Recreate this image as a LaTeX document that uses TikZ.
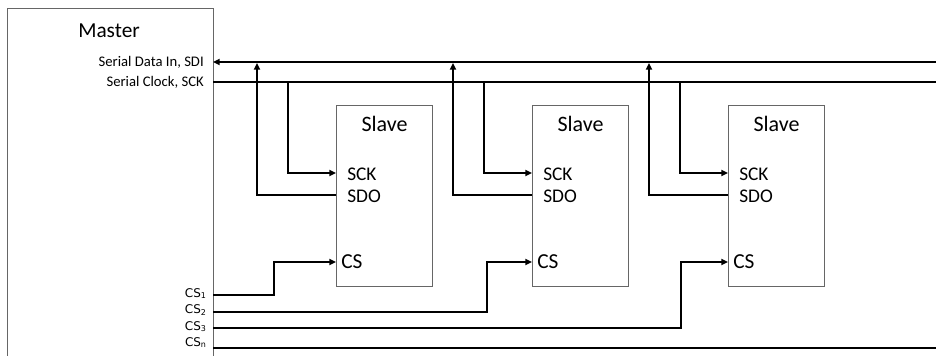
\documentclass[tikz,border=0pt]{standalone}
\usepackage{fontspec}
\setmainfont{Carlito}
\newfontfamily\csfont{DejaVu Sans}
\usetikzlibrary{arrows.meta,calc}

\begin{document}
\begin{tikzpicture}[x=0.75pt,y=-0.75pt,
  box/.style={draw=black!60, line width=0.8pt, rectangle, inner sep=0pt},
  bus/.style={line width=1.3pt},
  arr/.style={bus,-{Triangle[length=5pt,width=4.5pt]}},
  lbl/.style={inner sep=0pt, font=\fontsize{14.5}{16}\selectfont},
  pinlbl/.style={anchor=east, inner sep=0pt, font=\fontsize{11}{12}\selectfont},
  cslbl/.style={anchor=base east, inner sep=0pt, font=\csfont\fontsize{9}{10}\selectfont},
]
\useasboundingbox (0,0) rectangle (936,356);
\clip (0,0) rectangle (936,356);

% Master device (runs off the lower edge)
\node[box, anchor=north west, minimum width=154.5pt, minimum height=272pt] (master) at (7,8) {};
\node[anchor=base west, inner sep=0pt, font=\fontsize{16}{18}\selectfont] (mtitle) at (78,38) {Master};
\node[pinlbl] (sdilbl) at (204,62) {Serial Data In, SDI};
\node[pinlbl] (scklbl) at (204,82) {Serial Clock, SCK};
\node[cslbl] (cs1lbl) at (207,297) {CS\textsubscript{1}};
\node[cslbl] (cs2lbl) at (207,314) {CS\textsubscript{2}};
\node[cslbl] (cs3lbl) at (207,330) {CS\textsubscript{3}};
\node[cslbl] (csnlbl) at (207,346) {CS\textsubscript{n}};

% Shared bus lines
\coordinate (sdiR) at (936,62);
\coordinate (sckR) at (936,82);
\coordinate (csnR) at (936,348);
\coordinate (sdiL) at (213,62);
\coordinate (sckL) at (213,82);
\coordinate (cs1L) at (213,295);
\coordinate (cs2L) at (213,312);
\coordinate (cs3L) at (213,328);
\coordinate (csnL) at (213,348);

\draw[arr] (sdiR) -- (sdiL);
\draw[bus] (sckL) -- (sckR);
\draw[bus] (csnL) -- (csnR);

% Slave devices
\foreach \i/\x/\csoff in {1/336/62, 2/532/45, 3/728/47}{
  \node[box, anchor=north west, minimum width=72pt, minimum height=135.75pt] (s\i) at (\x,105) {};
  \node[lbl, font=\fontsize{16.5}{18}\selectfont] (s\i title) at ($(s\i.north)+(0,19)$) {Slave};
  \coordinate (s\i sck) at ($(s\i.north west)+(0,68)$);
  \coordinate (s\i sdo) at ($(s\i.north west)+(0,90)$);
  \coordinate (s\i cs)  at ($(s\i.north west)+(0,157)$);
  \node[lbl, anchor=west] (s\i scklbl) at ($(s\i sck)+(11,1)$) {SCK};
  \node[lbl, anchor=west] (s\i sdolbl) at ($(s\i sdo)+(11,1)$) {SDO};
  \node[lbl, anchor=west, font=\fontsize{16}{18}\selectfont] (s\i cslbl) at ($(s\i cs)+(5,0)$) {CS};
  \coordinate (s\i tap) at ($(s\i.west |- sckL)+(-48,0)$);
  \coordinate (s\i up)  at ($(s\i.west |- sdiL)+(-79,1)$);
  \draw[arr] (s\i tap) |- (s\i sck);
  \draw[arr] (s\i sdo) -| (s\i up);
  \draw[arr] (cs\i L) -| ($(s\i cs)+(-\csoff,0)$) -- (s\i cs);
}
\end{tikzpicture}
\end{document}
